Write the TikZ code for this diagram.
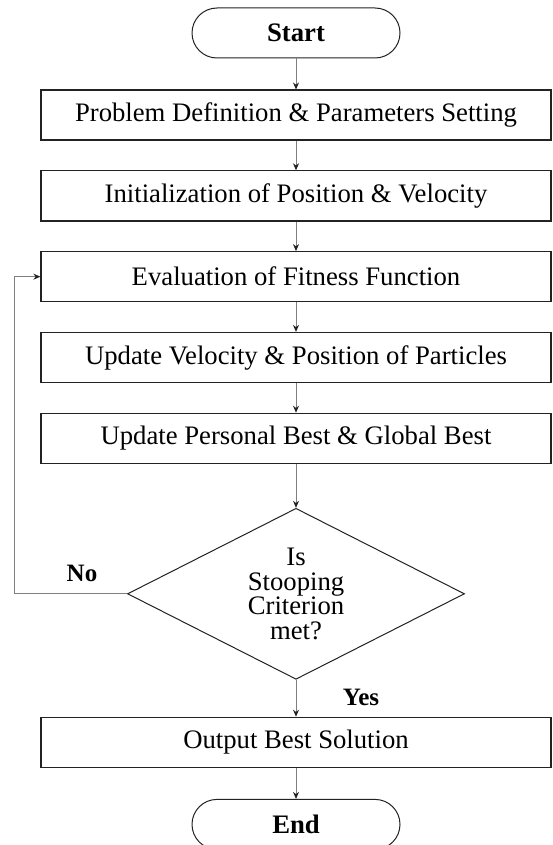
\documentclass[tikz,border=0pt]{standalone}
\usepackage{fontspec}
\setmainfont{Liberation Serif}
\usepackage{xcolor}
\usetikzlibrary{arrows.meta,positioning,shapes.geometric}
\definecolor{Edge}{HTML}{222222}
\definecolor{Link}{HTML}{7F7F7F}

\begin{document}
\begin{tikzpicture}[x=1pt,y=1pt,node distance=29.6pt,
    every node/.style={font=\fontsize{26.7}{24.7}\selectfont},
    term/.style={draw=Edge,line width=1pt,rounded corners=25pt,minimum width=208pt,minimum height=50pt,inner sep=0pt,font=\fontsize{26.7}{24.7}\selectfont\bfseries},
    box/.style={draw=Edge,line width=1.2pt,minimum width=510pt,minimum height=50pt,inner sep=0pt},
    dec/.style={draw=Edge,line width=1pt,diamond,aspect=2,minimum width=337pt,minimum height=171pt,inner sep=0pt,align=center},
    lbl/.style={font=\fontsize{25}{25}\selectfont\bfseries},
    a/.style={-{Stealth[length=7pt,width=6pt,color=Edge]},line width=0.9pt,draw=Link}]
    \useasboundingbox (0,0) rectangle (552,-845);
    \node[term] (start) at (296,-33) {Start};
    \node[box,below=31pt of start] (def) {Problem Definition \& Parameters Setting};
    \node[box,below=of def] (init) {Initialization of Position \& Velocity};
    \node[box,below=of init] (eval) {Evaluation of Fitness Function};
    \node[box,below=of eval] (upd) {Update Velocity \& Position of Particles};
    \node[box,below=of upd] (best) {Update Personal Best \& Global Best};
    \node[dec,below=43.9pt of best] (stop) {Is\\Stooping\\Criterion\\met?};
    \node[box,below=36.9pt of stop] (out) {Output Best Solution};
    \node[term,below=31pt of out] (end) {End};
    \coordinate (back) at (14,0);
    \node[lbl] (no) at (82,-573) {No};
    \node[lbl] (yes) at (361,-697) {Yes};
    \draw[a] (start)--(def); \draw[a] (def)--(init); \draw[a] (init)--(eval);
    \draw[a] (eval)--(upd); \draw[a] (upd)--(best); \draw[a] (best)--(stop);
    \draw[a] (stop)--(out); \draw[a] (out)--(end);
    \draw[a] (stop.west) -- (stop.west -| back) |- (eval.west);
  \end{tikzpicture}
\end{document}
